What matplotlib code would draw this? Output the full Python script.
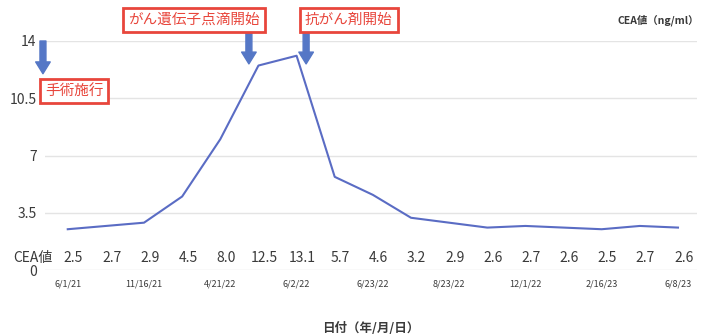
import matplotlib.pyplot as plt
import numpy as np

plt.rcParams['font.family'] = ['Noto Sans CJK JP', 'DejaVu Sans']

# data
dates = ['6/1/21', '', '11/16/21', '', '4/21/22', '', '6/2/22', '', '6/23/22', '',
         '8/23/22', '', '12/1/22', '', '2/16/23', '', '6/8/23']
cea = [2.5, 2.7, 2.9, 4.5, 8.0, 12.5, 13.1, 5.7, 4.6, 3.2, 2.9, 2.6, 2.7, 2.6, 2.5, 2.7, 2.6]
yticks = [0, 3.5, 7, 10.5, 14]
ytick_labels = ['0', '3.5', '7', '10.5', '14']

line_color = '#5a6cc4'
arrow_color = '#5577c6'
red = '#e8463c'
text_dark = '#3a3a3a'

fig = plt.figure(figsize=(7.12, 3.36), dpi=100)
ax = fig.add_axes([0.063, 0.196, 0.916, 0.682])

x = np.arange(len(cea))
ax.plot(x, cea, color=line_color, linewidth=1.5)

ax.set_xlim(-0.6, 16.5)
ax.set_ylim(0, 14)
ax.set_yticks(yticks)
ax.set_yticklabels(ytick_labels, fontsize=10, color=text_dark)
ax.tick_params(axis='y', length=0, pad=6)
ax.set_xticks(x)
ax.set_xticklabels(dates, fontsize=6.5, color=text_dark)
ax.tick_params(axis='x', length=0, pad=7)
ax.grid(axis='y', color='#e4e4e4', linewidth=1)
for s in ax.spines.values():
    s.set_visible(False)
ax.set_axisbelow(True)

# 数値の行
for xi, v in zip(x, cea):
    ax.text(xi + 0.15, 0.3, f'{v:.1f}', ha='center', va='bottom', fontsize=10, color=text_dark)
ax.text(-0.4, 0.3, 'CEA値', ha='right', va='bottom', fontsize=10, color=text_dark)

ax.set_xlabel('日付（年/月/日）', fontsize=9, fontweight='bold', color=text_dark, labelpad=24)

fig.text(0.982, 0.94, 'CEA値（ng/ml）', ha='right', va='center', fontsize=7.5,
         color=text_dark, fontweight='bold')

# 注釈
box = dict(boxstyle='square,pad=0.35', facecolor='white', edgecolor=red, linewidth=2)
arrow = dict(width=4.3, headwidth=10.5, headlength=8.5, facecolor=arrow_color,
             edgecolor=arrow_color, shrink=0)

ax.annotate('', xy=(-0.65, 12.0), xytext=(-0.65, 14.0),
            arrowprops=arrow, annotation_clip=False)
ax.text(-0.6, 10.95, '手術施行', fontsize=10.5, color=red, ha='left', va='center', bbox=box)

ax.annotate('', xy=(4.75, 12.6), xytext=(4.75, 14.5), arrowprops=arrow, annotation_clip=False)
ax.text(3.3, 15.3, 'がん遺伝子点滴開始', fontsize=10.5, color=red, ha='center', va='center',
        bbox=box)

ax.annotate('', xy=(6.25, 12.6), xytext=(6.25, 14.5), arrowprops=arrow, annotation_clip=False)
ax.text(7.37, 15.3, '抗がん剤開始', fontsize=10.5, color=red, ha='center', va='center', bbox=box)

fig.savefig('out.png', dpi=100)
